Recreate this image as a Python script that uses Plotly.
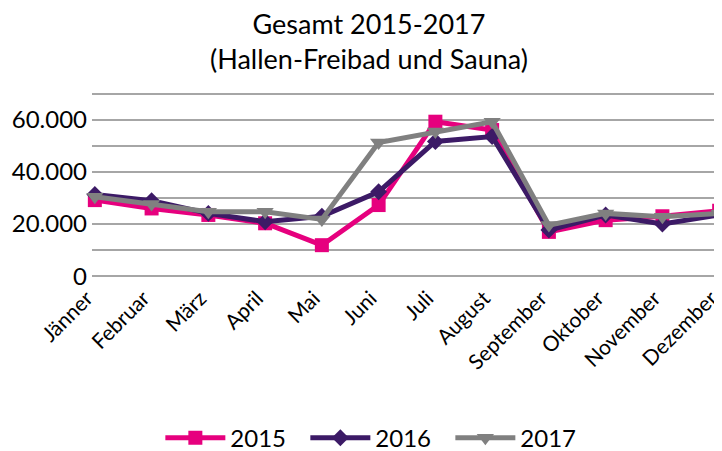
import plotly.graph_objects as go

months = ["Jänner", "Februar", "März", "April", "Mai", "Juni", "Juli",
          "August", "September", "Oktober", "November", "Dezember"]
v2015 = [29200, 26000, 23500, 20300, 11900, 27300, 59300, 56100, 17000, 21500, 23000, 25100]
v2016 = [31400, 29000, 24100, 20900, 23000, 32400, 51700, 53600, 17700, 23500, 20000, 23500]
v2017 = [30500, 27700, 24700, 24700, 21800, 51300, 55500, 59300, 19600, 24100, 22800, 24100]
ytick_vals = [0, 10000, 20000, 30000, 40000, 50000, 60000, 70000]
ytick_text = ["0", "", "20.000", "", "40.000", "", "60.000", ""]
title_text = "Gesamt 2015-2017<br>(Hallen-Freibad und Sauna)"

FONT = "Lato, Carlito, Calibri, sans-serif"
xs = list(range(len(months)))

fig = go.Figure()
fig.add_trace(go.Scatter(x=xs, y=v2015, name="2015", mode="lines+markers",
                         line=dict(color="#E6007E", width=5),
                         marker=dict(symbol="square", size=14, color="#E6007E"),
                         cliponaxis=False))
fig.add_trace(go.Scatter(x=xs, y=v2016, name="2016", mode="lines+markers",
                         line=dict(color="#3C1A66", width=5),
                         marker=dict(symbol="diamond", size=13, color="#3C1A66"),
                         cliponaxis=False))
fig.add_trace(go.Scatter(x=xs, y=v2017, name="2017", mode="lines+markers",
                         line=dict(color="#808080", width=5),
                         marker=dict(symbol="triangle-down", size=15, color="#808080"),
                         cliponaxis=False))

fig.update_layout(
    width=714, height=443,
    margin=dict(l=84, r=0, t=84, b=173),
    paper_bgcolor="white", plot_bgcolor="white",
    font=dict(family=FONT, color="black"),
    xaxis=dict(range=[-0.05, 11.05], tickmode="array", tickvals=xs, ticktext=months,
               tickangle=-45, tickfont=dict(size=21), showgrid=False,
               zeroline=False, showline=False, ticks="", automargin=False,
               ticklabeloverflow="allow", ticklabelshift=-8, ticklabelstandoff=3),
    yaxis=dict(range=[-700, 70700], tickmode="array", tickvals=ytick_vals,
               ticktext=ytick_text, tickfont=dict(size=24),
               showgrid=True, gridcolor="#A6A6A6", gridwidth=2,
               zeroline=False, showline=False, ticks="", automargin=False,
               ticklabelstandoff=4),
    legend=dict(orientation="h", x=0.518, xref="container", xanchor="center",
                y=0.029, yref="container", yanchor="middle",
                font=dict(size=24), itemwidth=60,
                entrywidth=70, entrywidthmode="pixels"),
    showlegend=True,
)
fig.add_annotation(text=title_text, xref="paper", yref="paper", x=0.44, y=1,
                   xanchor="center", yanchor="middle", yshift=51, showarrow=False,
                   font=dict(size=27, family=FONT, color="black"))

fig.write_html("out.html")
